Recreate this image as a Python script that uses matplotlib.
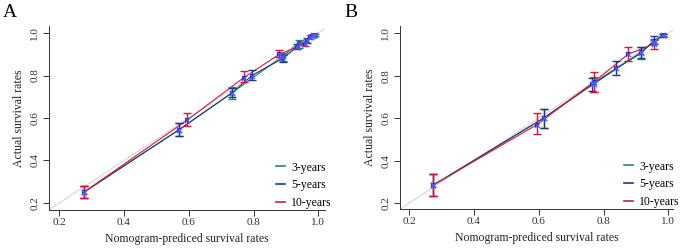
import matplotlib
matplotlib.use('Agg')
import matplotlib.pyplot as plt

plt.rcParams['font.family'] = ['Liberation Serif', 'DejaVu Serif']

# Panel A data (nomogram-predicted vs actual survival, with error bar limits)
a3_x = [0.275, 0.57, 0.735, 0.89, 0.94, 0.975, 0.99]
a3_y = [0.25, 0.545, 0.72, 0.89, 0.955, 0.98, 0.99]
a3_lo = [0.225, 0.515, 0.69, 0.87, 0.93, 0.97, 0.985]
a3_hi = [0.28, 0.575, 0.745, 0.905, 0.965, 0.99, 0.995]

a5_x = [0.275, 0.57, 0.735, 0.795, 0.89, 0.935, 0.965, 0.985]
a5_y = [0.25, 0.545, 0.72, 0.80, 0.88, 0.935, 0.965, 0.985]
a5_lo = [0.225, 0.515, 0.70, 0.78, 0.865, 0.925, 0.955, 0.98]
a5_hi = [0.28, 0.575, 0.74, 0.825, 0.895, 0.95, 0.975, 0.99]

a10_x = [0.275, 0.595, 0.77, 0.88, 0.96, 0.985]
a10_y = [0.25, 0.59, 0.79, 0.90, 0.95, 0.99]
a10_lo = [0.225, 0.56, 0.77, 0.885, 0.94, 0.985]
a10_hi = [0.28, 0.625, 0.82, 0.92, 0.96, 0.995]

# Panel B data
b3_x = [0.275, 0.615, 0.77, 0.915, 0.955, 0.985]
b3_y = [0.285, 0.60, 0.76, 0.91, 0.96, 0.99]
b3_lo = [0.235, 0.555, 0.725, 0.88, 0.95, 0.985]
b3_hi = [0.335, 0.645, 0.795, 0.935, 0.975, 0.995]

b5_x = [0.275, 0.615, 0.765, 0.84, 0.915, 0.955, 0.985]
b5_y = [0.285, 0.60, 0.76, 0.835, 0.905, 0.965, 0.99]
b5_lo = [0.235, 0.555, 0.73, 0.805, 0.885, 0.95, 0.98]
b5_hi = [0.335, 0.645, 0.79, 0.87, 0.935, 0.985, 0.995]

b10_x = [0.275, 0.595, 0.77, 0.875, 0.955]
b10_y = [0.285, 0.57, 0.77, 0.90, 0.95]
b10_lo = [0.235, 0.525, 0.725, 0.87, 0.925]
b10_hi = [0.335, 0.625, 0.815, 0.935, 0.97]

legend_labels = ['3-years', '5-years', '10-years']
colors = ['#2e8b57', '#1f3a7a', '#d6163c']
ticks = [0.2, 0.4, 0.6, 0.8, 1.0]

fig = plt.figure(figsize=(6.85, 2.5), dpi=100)


def draw_panel(ax, series, xlim, ylim):
    # reference diagonal
    ax.plot([0, 1.1], [0, 1.1], color='#d9d9d9', lw=0.9, zorder=1)
    for (x, y, lo, hi), c in zip(series, colors):
        ax.plot(x, y, color=c, lw=0.8, zorder=2)
        yerr = [[yy - l for yy, l in zip(y, lo)], [h - yy for yy, h in zip(y, hi)]]
        ax.errorbar(x, y, yerr=yerr, fmt='none', ecolor=c, elinewidth=1.0,
                    capsize=3, capthick=1.0, zorder=3)
    for (x, y, lo, hi), c in zip(series, colors):
        ax.scatter(x, y, marker='s', s=10, color='#3a0a8a', zorder=4, linewidths=0)
        ax.scatter(x, y, marker='x', s=14, color='#4a5cff', zorder=5, linewidths=0.9)

    ax.set_xlim(*xlim)
    ax.set_ylim(*ylim)
    ax.set_xticks(ticks)
    ax.set_yticks(ticks)
    ax.set_xticklabels(['%.1f' % t for t in ticks])
    ax.set_yticklabels(['%.1f' % t for t in ticks], rotation=90, va='center')
    ax.tick_params(direction='out', length=4, width=0.7, labelsize=8,
                   colors='#333333', pad=2)
    ax.tick_params(axis='y', pad=3)
    for s in ['top', 'right']:
        ax.spines[s].set_visible(False)
    for s in ['left', 'bottom']:
        ax.spines[s].set_linewidth(0.7)
        ax.spines[s].set_color('#333333')
    ax.set_xlabel('Nomogram-prediced survival rates', fontsize=8.5, labelpad=4, color='#222222')
    ax.set_ylabel('Actual survival rates', fontsize=8.5, labelpad=4, color='#222222')

    # legend as lines only, no frame
    handles = [plt.Line2D([], [], color=c, lw=1.2) for c in colors]
    ax.legend(handles, legend_labels, loc='lower right', frameon=False,
              fontsize=8.5, handlelength=0.8, handletextpad=0.5,
              labelspacing=0.5, borderaxespad=0.2, bbox_to_anchor=(1.05, -0.035))
    return ax


axA = fig.add_axes([0.0715, 0.16, 0.403, 0.736])
draw_panel(axA, [(a3_x, a3_y, a3_lo, a3_hi), (a5_x, a5_y, a5_lo, a5_hi),
                 (a10_x, a10_y, a10_lo, a10_hi)],
           (0.168, 1.021), (0.167, 1.033))

axB = fig.add_axes([0.584, 0.164, 0.3985, 0.732])
draw_panel(axB, [(b3_x, b3_y, b3_lo, b3_hi), (b5_x, b5_y, b5_lo, b5_hi),
                 (b10_x, b10_y, b10_lo, b10_hi)],
           (0.172, 1.0145), (0.172, 1.034))

fig.text(0.004, 0.985, 'A', fontsize=14, va='top', ha='left')
fig.text(0.503, 0.985, 'B', fontsize=14, va='top', ha='left')

fig.savefig('out.png', dpi=100)
